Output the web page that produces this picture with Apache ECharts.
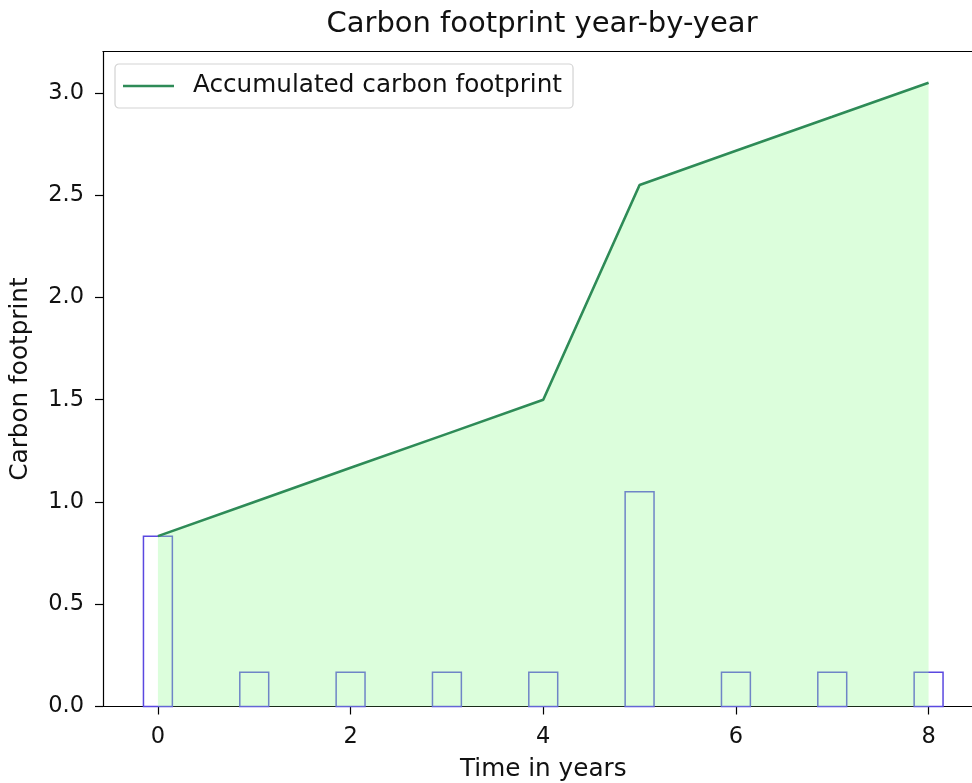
<!DOCTYPE html>
<html>
<head>
<meta charset="utf-8">
<title>Carbon footprint year-by-year</title>
<script src="https://cdn.jsdelivr.net/npm/echarts@6/dist/echarts.min.js"></script>
<style>
  html, body { margin: 0; padding: 0; background: #fff; }
  #chart { width: 972px; height: 783px; }
</style>
</head>
<body>
<div id="chart"></div>
<script>
// Years on the horizontal axis
const years = [0, 1, 2, 3, 4, 5, 6, 7, 8];
// Carbon footprint added in each year (bars)
const yearlyFootprint = [0.833, 0.167, 0.167, 0.167, 0.167, 1.05, 0.167, 0.167, 0.167];
// Running total of the footprint (line + shaded area)
const accumulatedFootprint = [0.833, 1.0, 1.167, 1.333, 1.5, 2.55, 2.717, 2.883, 3.05];
// Tick values
const xTicks = [0, 2, 4, 6, 8];
const yTicks = [0.0, 0.5, 1.0, 1.5, 2.0, 2.5, 3.0];

const BAR_WIDTH = 0.3; // in years
const FONT = 'DejaVu Sans';
const TEXT = '#111';
const X_MIN = -0.57, X_MAX = 8.57;

const barData = years.map((y, i) => [y, yearlyFootprint[i]]);
const lineData = years.map((y, i) => [y, accumulatedFootprint[i]]);

const chart = echarts.init(document.getElementById('chart'), null, { renderer: 'canvas' });

chart.setOption({
  animation: false,
  backgroundColor: '#ffffff',
  textStyle: { fontFamily: FONT },
  title: {
    text: 'Carbon footprint year-by-year',
    left: 537,
    textAlign: 'center',
    top: 5,
    textStyle: { fontFamily: FONT, fontSize: 29, fontWeight: 'normal', color: TEXT }
  },
  grid: {
    left: 103,
    top: 51.5,
    width: 880.5,
    height: 655,
    containLabel: false,
    outerBoundsMode: 'none'
  },
  legend: {
    left: 115,
    top: 64,
    orient: 'vertical',
    padding: [7, 11, 7, 8],
    itemWidth: 51,
    itemHeight: 14,
    backgroundColor: 'rgba(255,255,255,0.8)',
    borderColor: '#d3d3d3',
    borderWidth: 1.2,
    borderRadius: 4,
    data: [{ name: 'Accumulated carbon footprint', icon: 'path://M0,0 L51,0 L51,2.6 L0,2.6 Z' }],
    itemStyle: { color: '#2e8b57' },
    textStyle: { fontFamily: FONT, fontSize: 24.7, color: TEXT, lineHeight: 30, padding: [0, 0, 0, 14] }
  },
  xAxis: [
    {
      type: 'value',
      min: X_MIN,
      max: X_MAX,
      name: 'Time in years',
      nameLocation: 'middle',
      nameGap: 51,
      nameTextStyle: { fontFamily: FONT, fontSize: 24.7, color: TEXT },
      splitLine: { show: false },
      axisLine: { show: true, onZero: false, lineStyle: { color: '#000', width: 1.2 } },
      axisTick: { show: true, customValues: xTicks, length: 8, lineStyle: { color: '#000', width: 1.2 } },
      axisLabel: {
        customValues: xTicks,
        margin: 19,
        fontFamily: FONT, fontSize: 22.5, color: TEXT
      }
    },
    {
      // top frame line of the plot area
      type: 'value',
      position: 'top',
      min: X_MIN,
      max: X_MAX,
      splitLine: { show: false },
      axisLine: { show: true, onZero: false, lineStyle: { color: '#000', width: 1.2 } },
      axisTick: { show: false },
      axisLabel: { show: false }
    }
  ],
  yAxis: {
    type: 'value',
    min: 0,
    max: 3.2025,
    name: 'Carbon footprint',
    nameLocation: 'middle',
    nameGap: 70,
    nameTextStyle: { fontFamily: FONT, fontSize: 24.7, color: TEXT },
    splitLine: { show: false },
    axisLine: { show: true, onZero: false, lineStyle: { color: '#000', width: 1.2 } },
    axisTick: { show: true, customValues: yTicks, length: 8, lineStyle: { color: '#000', width: 1.2 } },
    axisLabel: {
      customValues: yTicks,
      margin: 19,
      fontFamily: FONT, fontSize: 22.5, color: TEXT,
      formatter: v => v.toFixed(1)
    }
  },
  series: [
    {
      // Yearly footprint drawn as outlined bars, width given in axis units
      name: 'Yearly footprint',
      type: 'custom',
      z: 1,
      silent: true,
      data: barData,
      encode: { x: 0, y: 1 },
      renderItem: function (params, api) {
        const x = api.value(0);
        const v = api.value(1);
        const topLeft = api.coord([x - BAR_WIDTH / 2, v]);
        const bottomRight = api.coord([x + BAR_WIDTH / 2, 0]);
        return {
          type: 'rect',
          shape: {
            x: topLeft[0],
            y: topLeft[1],
            width: bottomRight[0] - topLeft[0],
            height: bottomRight[1] - topLeft[1]
          },
          style: { fill: 'none', stroke: '#5a48e0', lineWidth: 1.5 }
        };
      }
    },
    {
      name: 'Accumulated carbon footprint',
      type: 'line',
      z: 2,
      data: lineData,
      symbol: 'none',
      lineStyle: { color: '#2e8b57', width: 2.6 },
      itemStyle: { color: '#2e8b57' },
      areaStyle: { color: '#98fb98', opacity: 0.34, origin: 'start' }
    }
  ]
});
</script>
</body>
</html>
